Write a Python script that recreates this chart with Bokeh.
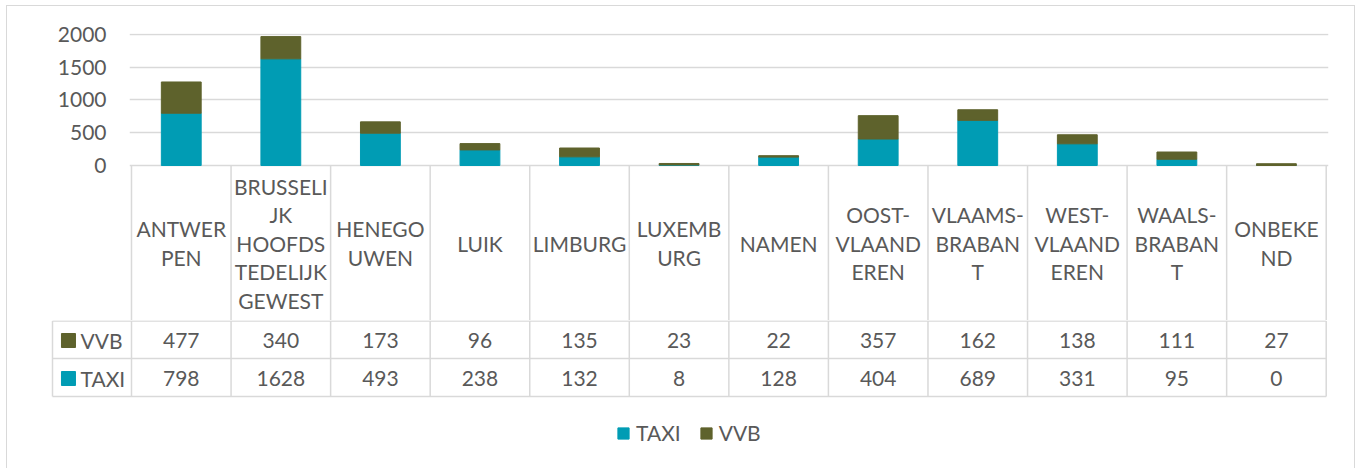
from bokeh.plotting import figure
from bokeh.layouts import column
from bokeh.models import ColumnDataSource, Range1d, FixedTicker, Legend, LegendItem
from bokeh.core.properties import value
from bokeh.embed import file_html
from bokeh.resources import INLINE

categories = ["ANTWERPEN", "BRUSSELIJK HOOFDSTEDELIJK GEWEST", "HENEGOUWEN", "LUIK",
              "LIMBURG", "LUXEMBURG", "NAMEN", "OOST-VLAANDEREN", "VLAAMS-BRABANT",
              "WEST-VLAANDEREN", "WAALS-BRABANT", "ONBEKEND"]
category_labels = ["ANTWER\nPEN", "BRUSSELI\nJK\nHOOFDS\nTEDELIJK\nGEWEST", "HENEGO\nUWEN",
                   "LUIK", "LIMBURG", "LUXEMB\nURG", "NAMEN", "OOST-\nVLAAND\nEREN",
                   "VLAAMS-\nBRABAN\nT", "WEST-\nVLAAND\nEREN", "WAALS-\nBRABAN\nT", "ONBEKE\nND"]
taxi = [798, 1628, 493, 238, 132, 8, 128, 404, 689, 331, 95, 0]
vvb = [477, 340, 173, 96, 135, 23, 22, 357, 162, 138, 111, 27]
series = ["TAXI", "VVB"]
y_ticks = [0, 500, 1000, 1500, 2000]

TEAL = "#009CB4"
OLIVE = "#5E622C"
TXT = "#595959"
LINE = "#D9D9D9"
FONT = "Lato"
FS = "21px"

n = len(categories)
xc = [i + 0.5 for i in range(n)]
src = ColumnDataSource(data=dict(x=xc, cat=categories, TAXI=taxi, VVB=vvb))

W = 1347

# ---------- top figure: bars + category header ----------
y_start, y_end = -2366, 2015
p1 = figure(width=W, height=314, x_range=Range1d(-0.02, n + 0.023),
            y_range=Range1d(y_start, y_end), output_backend="svg",
            toolbar_location=None, x_axis_location=None,
            min_border_left=122, min_border_right=26, min_border_top=27,
            min_border_bottom=0)
p1.frame_align = False
p1.outline_line_color = None
p1.xgrid.visible = False
p1.ygrid.grid_line_color = LINE
p1.ygrid.grid_line_width = 1.5
p1.yaxis.ticker = FixedTicker(ticks=y_ticks)
p1.yaxis.axis_line_color = None
p1.yaxis.major_tick_line_color = None
p1.yaxis.minor_tick_line_color = None
p1.yaxis.major_label_standoff = 17
p1.yaxis.major_label_text_font = FONT
p1.yaxis.major_label_text_font_size = FS
p1.yaxis.major_label_text_color = TXT

p1.vbar_stack(series, x="x", width=0.4, color=[TEAL, OLIVE], source=src)

# header cells
p1.segment(x0=list(range(n + 1)), y0=[0] * (n + 1), x1=list(range(n + 1)),
           y1=[y_start] * (n + 1), line_color=LINE, line_width=1.5)
p1.text(x=xc, y=[y_start / 2] * n, text=category_labels, text_align="center",
        text_baseline="middle", text_font=value(FONT), text_font_size=FS,
        text_color=TXT, text_line_height=1.14)

# ---------- bottom figure: data rows + legend ----------
p2 = figure(width=W, height=148, x_range=Range1d(-0.8136, n + 0.023),
            y_range=Range1d(0, 148), output_backend="svg", toolbar_location=None,
            x_axis_location=None, y_axis_location=None,
            min_border_left=43, min_border_right=26, min_border_top=0,
            min_border_bottom=0)
p2.frame_align = False
p2.outline_line_color = None
p2.grid.visible = False

left = -0.7935
row_top, row_mid, row_bot = 147.5, 110, 72
p2.segment(x0=[left] * 3, y0=[row_top, row_mid, row_bot], x1=[n] * 3,
           y1=[row_top, row_mid, row_bot], line_color=LINE, line_width=1.5)
vx = [left] + list(range(n + 1))
p2.segment(x0=vx, y0=[row_bot] * len(vx), x1=vx, y1=[row_top] * len(vx),
           line_color=LINE, line_width=1.5)

vvb_y, taxi_y = 128, 90
p2.text(x=xc, y=[vvb_y] * n, text=[str(v) for v in vvb], text_align="center",
        text_baseline="middle", text_font=value(FONT), text_font_size=FS, text_color=TXT)
p2.text(x=xc, y=[taxi_y] * n, text=[str(v) for v in taxi], text_align="center",
        text_baseline="middle", text_font=value(FONT), text_font_size=FS, text_color=TXT)

key_x = -0.633
r_vvb = p2.rect(x=[key_x], y=[vvb_y], width=14, height=14, width_units="screen",
                height_units="screen", color=OLIVE)
r_taxi = p2.rect(x=[key_x], y=[taxi_y], width=14, height=14, width_units="screen",
                 height_units="screen", color=TEAL)
p2.text(x=[-0.512, -0.512], y=[vvb_y, taxi_y], text=["VVB", "TAXI"], text_align="left",
        text_baseline="middle", text_font=value(FONT), text_font_size=FS, text_color=TXT)

legend = Legend(items=[LegendItem(label="TAXI", renderers=[r_taxi]),
                       LegendItem(label="VVB", renderers=[r_vvb])],
                orientation="horizontal", location=(566, 23), padding=0, margin=0,
                spacing=18, label_standoff=6, glyph_width=14, glyph_height=14,
                label_height=14, label_text_font=FONT, label_text_font_size=FS,
                label_text_color=TXT, border_line_color=None,
                background_fill_alpha=0)
p2.add_layout(legend)

layout = column(p1, p2, spacing=0, margin=(5, 0, 0, 6),
                styles={"border-top": "1px solid #D9D9D9",
                        "border-left": "1px solid #D9D9D9",
                        "border-right": "1px solid #D9D9D9"})

open("out.html", "w").write(file_html(layout, INLINE))
